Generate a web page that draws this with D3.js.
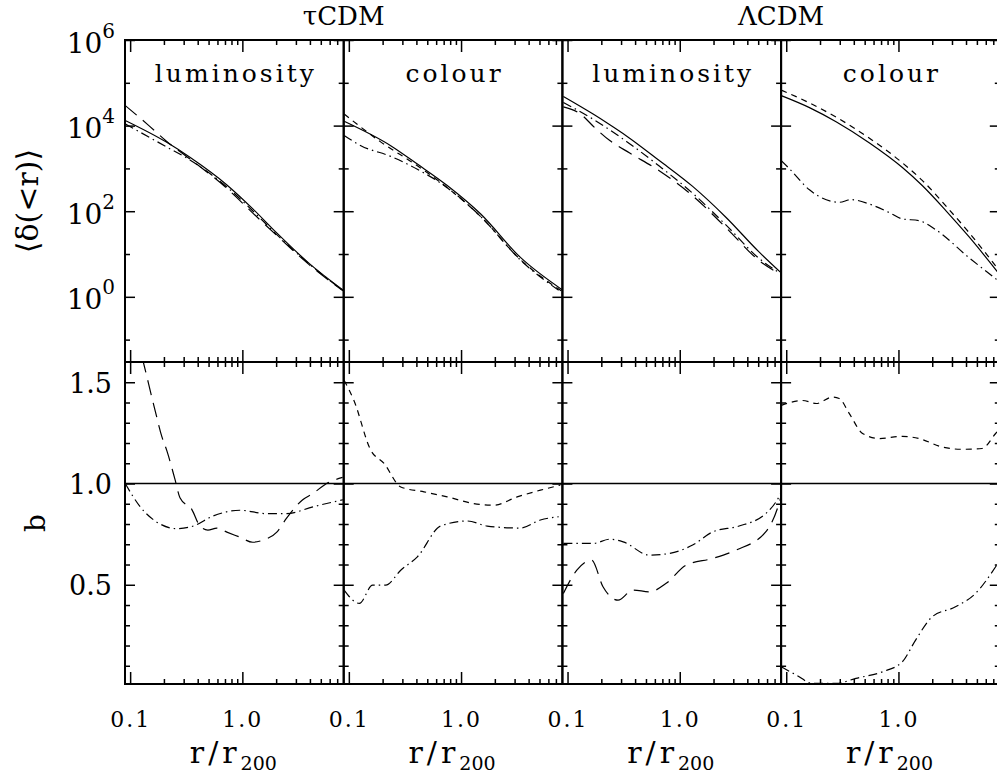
<!DOCTYPE html>
<html><head><meta charset="utf-8">
<script src="https://cdn.jsdelivr.net/npm/d3@7"></script>
<style>
body{margin:0;background:#fff}
svg{display:block}
text{font-family:"DejaVu Serif",serif;fill:#000}
</style>
</head><body>
<svg id="c" width="997" height="777"></svg>
<script>
// ---------------- DATA ----------------
const models = ["τCDM", "ΛCDM"];
const panelTitles = ["luminosity", "colour", "luminosity", "colour"];
const xMajor = [0.1, 1];
const xMinor = [0.2,0.3,0.4,0.5,0.6,0.7,0.8,0.9,2,3,4,5,6,7];
const xTickLabels = ["0.1", "1.0"];
const yTopMajor = [1e6, 1e4, 1e2, 1];
const yTopMinor = [1e5, 1e3, 10, 0.1];
const yBotMajor = [0.5, 1.0, 1.5];
const yBotMinor = [0.1,0.2,0.3,0.4,0.6,0.7,0.8,0.9,1.1,1.2,1.3,1.4];
const yBotLabels = ["0.5", "1.0", "1.5"];

// top row: <delta(<r)>
const rTauLumSolid = [0.0904,0.212,0.341,0.724,1.247,2.014,3.981,7.87];
const dTauLumSolid = [13200,4070,1820,417,112,31.6,5.89,1.45];
const rTauLumLong  = [0.0904,0.141,0.212,0.341,0.724,1.247,2.014,3.981,7.87];
const dTauLumLong  = [29500,11000,4270,1660,347,89.1,27.5,5.50,1.38];
const rTauLumDD    = [0.0904,0.212,0.341,0.724,1.247,2.014,3.981,7.87];
const dTauLumDD    = [11000,3160,1580,372,100,28.8,5.75,1.41];

const rTauColSolid = [0.0908,0.236,0.408,0.753,1.489,3.381,8.0];
const dTauColSolid = [12600,3390,1260,398,87.1,8.32,1.45];
const rTauColShort = [0.0908,0.192,0.408,0.753,1.489,3.381,8.0];
const dTauColShort = [18600,4170,1150,355,75.9,7.41,1.32];
const rTauColDD    = [0.0908,0.128,0.236,0.408,0.753,1.489,3.381,8.0];
const dTauColDD    = [5890,3390,1910,955,355,75.9,7.24,1.23];

const rLamLumSolid = [0.0918,0.169,0.229,0.335,0.661,1.303,2.576,5.082,7.925];
const dLamLumSolid = [47900,18600,11200,5750,1510,380,72.4,11.2,3.72];
const rLamLumLong  = [0.0918,0.129,0.175,0.238,0.358,0.661,1.303,2.576,5.082,7.925];
const dLamLumLong  = [27500,19100,8910,4470,2290,871,229,41.7,7.08,3.31];
const rLamLumDD    = [0.0918,0.169,0.335,0.661,1.303,2.576,5.082,7.925];
const dLamLumDD    = [34700,14100,4270,1120,263,47.9,7.94,3.47];

const rLamColSolid = [0.0903,0.161,0.278,0.548,1.084,1.629,2.630,4.227,7.98];
const dLamColSolid = [50100,26300,12300,3980,1050,398,105,25.7,3.31];
const rLamColShort = [0.0903,0.161,0.278,0.548,1.084,1.629,2.630,4.227,7.98];
const dLamColShort = [67600,33900,15800,5130,1350,525,135,32.4,3.98];
const rLamColDD    = [0.0903,0.107,0.161,0.297,0.378,0.548,0.826,1.084,1.524,2.143,4.227,7.98];
const dLamColDD    = [1510,977,316,162,186,148,93.3,66.1,60.3,37.2,8.32,2.24];

// bottom row: bias b
const rTauLumBLong = [0.0904,0.131,0.167,0.192,0.213,0.251,0.278,0.356,0.419,0.493,0.593,0.728,0.951,1.239,1.521,2.028,2.489,3.451,4.236,5.636,7.816];
const bTauLumBLong = [1.95,1.6,1.36,1.23,1.16,1.02,0.93,0.87,0.79,0.77,0.78,0.76,0.735,0.71,0.72,0.76,0.83,0.92,0.95,1.0,1.03];
const rTauLumBDD   = [0.0904,0.123,0.185,0.260,0.366,0.550,0.951,1.641,2.472,4.256,7.87];
const bTauLumBDD   = [1.0,0.885,0.80,0.777,0.79,0.84,0.868,0.851,0.851,0.885,0.92];

const rTauColBShort = [0.0908,0.111,0.157,0.206,0.290,0.467,0.753,1.300,1.959,3.162,5.093,7.656];
const bTauColBShort = [1.51,1.41,1.164,1.099,0.983,0.959,0.934,0.901,0.893,0.934,0.967,0.992];
const rTauColBDD    = [0.0908,0.124,0.163,0.213,0.290,0.408,0.658,1.135,1.710,3.381,5.093,7.413];
const bTauColBDD    = [0.474,0.408,0.498,0.498,0.572,0.638,0.79,0.815,0.79,0.78,0.82,0.836];

const rLamLumBDD   = [0.0918,0.169,0.238,0.313,0.538,0.811,1.303,1.963,3.381,5.834,7.656,7.925];
const bLamLumBDD   = [0.704,0.704,0.725,0.712,0.646,0.655,0.696,0.761,0.79,0.851,0.934,0.95];
const rLamLumBLong = [0.0918,0.121,0.164,0.207,0.282,0.383,0.538,0.757,1.140,1.963,3.162,5.834,7.656,7.925];
const bLamLumBLong = [0.457,0.572,0.622,0.49,0.424,0.474,0.465,0.507,0.597,0.630,0.671,0.761,0.901,0.93];

const rLamColBShort = [0.0903,0.140,0.185,0.259,0.297,0.365,0.479,0.673,1.084,1.524,2.455,3.690,5.559,7.345,7.98];
const bLamColBShort = [1.386,1.41,1.395,1.427,1.42,1.345,1.247,1.222,1.233,1.222,1.18,1.169,1.173,1.247,1.27];
const rLamColBDD    = [0.0903,0.123,0.172,0.278,0.418,0.719,1.084,1.422,2.000,3.221,4.853,7.345,7.98];
const bLamColBDD    = [0.095,0.054,0.013,0.013,0.038,0.07,0.12,0.227,0.342,0.391,0.457,0.589,0.62];

// ---------------- SERIES TABLES ----------------
const zip = (a, b) => a.map((v, i) => [v, b[i]]);
const topSeries = [
  [[rTauLumSolid,dTauLumSolid,"solid"],[rTauLumLong,dTauLumLong,"long"],[rTauLumDD,dTauLumDD,"dashdot"]],
  [[rTauColSolid,dTauColSolid,"solid"],[rTauColShort,dTauColShort,"short"],[rTauColDD,dTauColDD,"dashdot"]],
  [[rLamLumSolid,dLamLumSolid,"solid"],[rLamLumLong,dLamLumLong,"long"],[rLamLumDD,dLamLumDD,"dashdot"]],
  [[rLamColSolid,dLamColSolid,"solid"],[rLamColShort,dLamColShort,"short"],[rLamColDD,dLamColDD,"dashdot"]]
];
const botSeries = [
  [[rTauLumBLong,bTauLumBLong,"long"],[rTauLumBDD,bTauLumBDD,"dashdot"]],
  [[rTauColBShort,bTauColBShort,"short"],[rTauColBDD,bTauColBDD,"dashdot"]],
  [[rLamLumBLong,bLamLumBLong,"long"],[rLamLumBDD,bLamLumBDD,"dashdot"]],
  [[rLamColBShort,bLamColBShort,"short"],[rLamColBDD,bLamColBDD,"dashdot"]]
];
const dashes = {solid: null, short: "6,5", long: "15,8", dashdot: "9,4,1.5,4"};

// ---------------- LAYOUT ----------------
const svg = d3.select("#c");
const X0 = 125, PW = 218.7;
const T0 = 40, MID = 362, B0 = 684;
const xScale = i => d3.scaleLog().domain([0.09, 8]).range([X0 + i*PW, X0 + (i+1)*PW]);
const yTop = d3.scaleLog().domain([0.03, 1e6]).range([MID, T0]);
const yBot = d3.scaleLinear().domain([0.01, 1.6]).range([B0, MID]);

const defs = svg.append("defs");

function ticks(g, axisFn, scale, vals, size) {
  g.call(axisFn(scale).tickValues(vals).tickSize(-size).tickFormat(""))
   .call(a => a.select(".domain").remove())
   .call(a => a.selectAll("line").attr("stroke", "#000").attr("stroke-width", 1.5));
}

function panel(i, row) {
  const xs = xScale(i);
  const ys = row === 0 ? yTop : yBot;
  const [x1, x2] = xs.range();
  const yA = row === 0 ? T0 : MID, yB = row === 0 ? MID : B0;
  const id = `clip${row}${i}`;
  defs.append("clipPath").attr("id", id).append("rect")
    .attr("x", x1).attr("y", yA).attr("width", x2 - x1).attr("height", yB - yA);
  const g = svg.append("g");
  const line = d3.line().x(d => xs(d[0])).y(d => ys(d[1])).curve(d3.curveMonotoneX);
  const cg = g.append("g").attr("clip-path", `url(#${id})`);
  if (row === 1) {
    cg.append("line").attr("x1", x1).attr("x2", x2).attr("y1", ys(1)).attr("y2", ys(1))
      .attr("stroke", "#000").attr("stroke-width", 1.6);
  }
  const series = row === 0 ? topSeries[i] : botSeries[i];
  series.forEach(([r, v, s]) => {
    cg.append("path").attr("d", line(zip(r, v)))
      .attr("fill", "none").attr("stroke", "#000").attr("stroke-width", 1.2)
      .attr("stroke-dasharray", dashes[s]);
  });
  // ticks on all sides, pointing inwards
  const majY = row === 0 ? yTopMajor : yBotMajor;
  const minY = row === 0 ? yTopMinor : yBotMinor;
  ticks(g.append("g").attr("transform", `translate(0,${yA})`), d3.axisTop, xs, xMajor, 12);
  ticks(g.append("g").attr("transform", `translate(0,${yA})`), d3.axisTop, xs, xMinor, 5);
  ticks(g.append("g").attr("transform", `translate(0,${yB})`), d3.axisBottom, xs, xMajor, 12);
  ticks(g.append("g").attr("transform", `translate(0,${yB})`), d3.axisBottom, xs, xMinor, 5);
  ticks(g.append("g").attr("transform", `translate(${x1},0)`), d3.axisLeft, ys, majY, 10);
  ticks(g.append("g").attr("transform", `translate(${x1},0)`), d3.axisLeft, ys, minY, 5);
  ticks(g.append("g").attr("transform", `translate(${x2},0)`), d3.axisRight, ys, majY, 10);
  ticks(g.append("g").attr("transform", `translate(${x2},0)`), d3.axisRight, ys, minY, 5);
  g.append("rect").attr("x", x1).attr("y", yA).attr("width", x2 - x1).attr("height", yB - yA)
    .attr("fill", "none").attr("stroke", "#000").attr("stroke-width", 2);

  if (row === 0) {
    g.append("text").attr("x", (x1 + x2) / 2 + 1.5).attr("y", 82)
      .attr("text-anchor", "middle").attr("font-size", 25).attr("letter-spacing", 3)
      .text(panelTitles[i]);
  }
  if (row === 1) {
    // x tick labels
    const ax = svg.append("g").attr("transform", `translate(0,${B0})`)
      .call(d3.axisBottom(xs).tickValues(xMajor).tickSize(0).tickFormat((d, k) => xTickLabels[k]));
    ax.select(".domain").remove();
    ax.attr("font-family", null).attr("font-size", null);
    ax.selectAll("text").attr("y", 43).attr("dy", null).attr("x", 0)
      .attr("font-size", 22).attr("letter-spacing", 2).attr("fill", "#000");
    // axis title r/r200
    const t = svg.append("text").attr("x", (x1 + x2) / 2 - 1).attr("y", 763).attr("text-anchor", "middle");
    t.append("tspan").attr("font-size", 30).attr("letter-spacing", 4).text("r/r");
    t.append("tspan").attr("font-size", 19).attr("dy", 7).text("200");
  }
}

for (let i = 0; i < 4; i++) { panel(i, 0); panel(i, 1); }

// left tick labels, top row (powers of ten)
const la = svg.append("g").attr("transform", `translate(${X0},0)`)
  .call(d3.axisLeft(yTop).tickValues(yTopMajor).tickSize(0).tickPadding(10).tickFormat(""));
la.select(".domain").remove();
la.attr("font-family", null).attr("font-size", null);
la.selectAll("text").attr("dy", null).attr("y", 12).attr("fill", "#000").each(function(d) {
  const t = d3.select(this);
  t.append("tspan").attr("font-size", 28).text("10");
  t.append("tspan").attr("font-size", 20).attr("dy", -15).text(String(Math.round(Math.log10(d))));
});
// left tick labels, bottom row
const lb = svg.append("g").attr("transform", `translate(${X0},0)`)
  .call(d3.axisLeft(yBot).tickValues(yBotMajor).tickSize(0).tickPadding(13).tickFormat((d, k) => yBotLabels[k]));
lb.select(".domain").remove();
lb.attr("font-family", null).attr("font-size", null);
lb.selectAll("text").attr("dy", null).attr("y", 10).attr("font-size", 27).attr("fill", "#000");

// axis titles
svg.append("text").attr("transform", `translate(38,${(T0 + MID) / 2}) rotate(-90)`)
  .attr("text-anchor", "middle").attr("font-size", 30).text("⟨δ(<r)⟩");
svg.append("text").attr("transform", `translate(45,${(MID + B0) / 2}) rotate(-90)`)
  .attr("text-anchor", "middle").attr("font-size", 28).text("b");

// model titles
models.forEach((m, k) => {
  svg.append("text").attr("x", X0 + (2*k + 1) * PW).attr("y", 25)
    .attr("text-anchor", "middle").attr("font-size", 26).text(m);
});
</script>
</body></html>
